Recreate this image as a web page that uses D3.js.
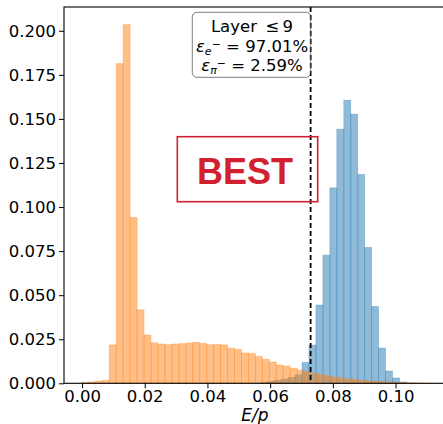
<!DOCTYPE html>
<html>
<head>
<meta charset="utf-8">
<script src="https://cdn.jsdelivr.net/npm/d3@7"></script>
<style>
  body { margin: 0; background: #fff; }
  svg { display: block; font-family: "DejaVu Sans", sans-serif; }
</style>
</head>
<body>
<div id="chart"></div>
<script>
// Histogram bins (normalised counts)
const binWidth = 0.00222;
const pionStart = -0.0002;
const pionValues = [
  0.0006, 0.0008, 0.0013, 0.0017, 0.0218, 0.1814, 0.2035, 0.0941, 0.0417, 0.0274,
  0.0230, 0.0223, 0.0219, 0.0223, 0.0225, 0.0229, 0.0232, 0.0227, 0.0219, 0.0220,
  0.0218, 0.0199, 0.0193, 0.0172, 0.0170, 0.0153, 0.0136, 0.0121, 0.0104, 0.0098,
  0.0085, 0.0075, 0.0065, 0.0057, 0.0049, 0.0042, 0.0035, 0.0030, 0.0025, 0.0021,
  0.0017, 0.0013, 0.0011, 0.0009, 0.0007, 0.0005, 0.0004, 0.0003, 0.0002, 0.0001
];
const electronStart = 0.05684;
const electronValues = [
  0.0005, 0.0010, 0.0016, 0.0024, 0.0033, 0.0048, 0.0118, 0.0217, 0.0444, 0.0727,
  0.1109, 0.1442, 0.1606, 0.1527, 0.1185, 0.0771, 0.0436, 0.0200, 0.0070, 0.0030,
  0.0007
];
const cutValue = 0.0729;
const xTicks = [0, 0.02, 0.04, 0.06, 0.08, 0.10];
const yTicks = [0, 0.025, 0.05, 0.075, 0.1, 0.125, 0.15, 0.175, 0.2];
const boxLines = [
  {sym: "\u03b5", sub: "e", val: "97.01%"},
  {sym: "\u03b5", sub: "\u03c0", val: "2.59%"}
];

const width = 443, height = 424;
const margins = {top: 7, right: -4, bottom: 40.7, left: 64};

const svg = d3.select("#chart")
  .append("svg")
  .attr("width", width)
  .attr("height", height);

const xScale = d3.scaleLinear()
  .domain([-0.00575, 0.1164])
  .range([margins.left, width - margins.right]);

const yScale = d3.scaleLinear()
  .domain([0, 0.2135])
  .range([height - margins.bottom, margins.top]);

// turn bin values into {x0, x1, v}
const toBins = (start, values) => values.map((v, i) => ({
  x0: start + i * binWidth,
  x1: start + (i + 1) * binWidth,
  v: v
}));

const drawHist = (bins, color) => {
  svg.append("g")
    .selectAll("rect")
    .data(bins)
    .join("rect")
      .attr("x", d => xScale(d.x0))
      .attr("y", d => yScale(d.v))
      .attr("width", d => xScale(d.x1) - xScale(d.x0))
      .attr("height", d => yScale(0) - yScale(d.v))
      .attr("fill", color)
      .attr("fill-opacity", 0.5)
      .attr("stroke", color)
      .attr("stroke-opacity", 0.3)
      .attr("stroke-width", 0.9);
};

drawHist(toBins(electronStart, electronValues), "#1f77b4");
drawHist(toBins(pionStart, pionValues), "#ff7f0e");

// cut line
svg.append("line")
  .attr("x1", xScale(cutValue))
  .attr("x2", xScale(cutValue))
  .attr("y1", yScale.range()[1])
  .attr("y2", yScale.range()[0])
  .attr("stroke", "#000")
  .attr("stroke-width", 1.8)
  .attr("stroke-dasharray", "5,3");

/* Info box */
const box = svg.append("g");
box.append("rect")
  .attr("x", 192.3)
  .attr("y", 12.3)
  .attr("width", 118.4)
  .attr("height", 65)
  .attr("rx", 4.5)
  .attr("fill", "#fff")
  .attr("fill-opacity", 0.5)
  .attr("stroke", "#000")
  .attr("stroke-opacity", 0.5)
  .attr("stroke-width", 1);

const cx = 252;
const fs = 16.5, sub = 11;
box.append("text")
  .attr("x", cx).attr("y", 32)
  .attr("text-anchor", "middle")
  .style("font-size", fs + "px")
  .text("Layer \u2009\u2264\u20099");

boxLines.forEach((d, i) => {
  const t = box.append("text")
    .attr("x", cx).attr("y", 51.7 + i * 19.3)
    .attr("text-anchor", "middle")
    .style("font-size", fs + "px");
  t.append("tspan").style("font-style", "italic").text(d.sym);
  t.append("tspan").style("font-style", "italic").style("font-size", sub + "px")
    .attr("dy", 3).text(d.sub);
  t.append("tspan").style("font-size", sub + "px").attr("dy", -7).text("\u2212");
  t.append("tspan").attr("dy", 4).text(" = " + d.val);
});

/* BEST stamp */
svg.append("rect")
  .attr("x", 177.3)
  .attr("y", 136.7)
  .attr("width", 140.4)
  .attr("height", 65)
  .attr("fill", "none")
  .attr("stroke", "#d32030")
  .attr("stroke-width", 1.6);

svg.append("text")
  .attr("x", 245)
  .attr("y", 183.5)
  .attr("text-anchor", "middle")
  .style("font-family", "'Liberation Sans', Arial, sans-serif")
  .style("font-weight", "bold")
  .style("font-size", "36px")
  .style("fill", "#d32030")
  .text("BEST");

/* Axes */
const xAxis = d3.axisBottom(xScale)
  .tickValues(xTicks)
  .tickFormat(d3.format(".2f"))
  .tickSize(5)
  .tickPadding(1.5);

svg.append("g")
  .attr("transform", `translate(0, ${yScale(0)})`)
  .call(xAxis)
  .call(g => g.select(".domain").remove())
  .call(g => g.selectAll("text")
    .style("font-family", "'DejaVu Sans'")
    .style("font-size", "16.5px")
    .attr("fill", "#000"));

const yAxis = d3.axisLeft(yScale)
  .tickValues(yTicks)
  .tickFormat(d3.format(".3f"))
  .tickSize(5)
  .tickPadding(3);

svg.append("g")
  .attr("transform", `translate(${margins.left}, 0)`)
  .call(yAxis)
  .call(g => g.select(".domain").remove())
  .call(g => g.selectAll("text")
    .style("font-family", "'DejaVu Sans'")
    .style("font-size", "16.5px")
    .attr("fill", "#000"));

// frame
svg.append("rect")
  .attr("x", margins.left)
  .attr("y", margins.top)
  .attr("width", xScale.range()[1] - margins.left)
  .attr("height", yScale(0) - margins.top)
  .attr("fill", "none")
  .attr("stroke", "#000")
  .attr("stroke-width", 1.1);

/* x label */
svg.append("text")
  .attr("x", 255)
  .attr("y", 421)
  .attr("text-anchor", "middle")
  .style("font-size", "17px")
  .style("font-style", "italic")
  .text("E/p");
</script>
</body>
</html>
